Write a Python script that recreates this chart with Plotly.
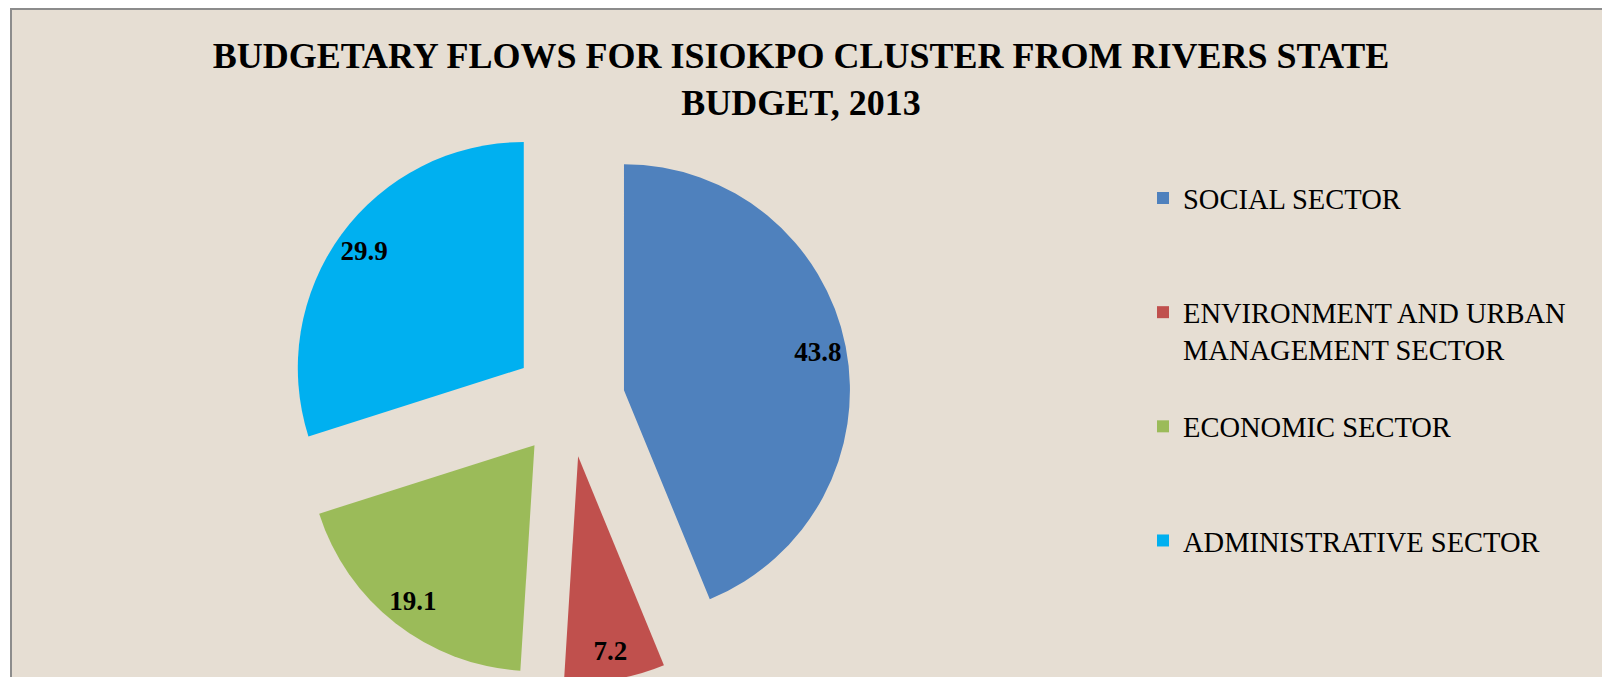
import plotly.graph_objects as go

# ---- data ----
categories = [
    "SOCIAL SECTOR",
    "ENVIRONMENT AND URBAN<br>MANAGEMENT SECTOR",
    "ECONOMIC SECTOR",
    "ADMINISTRATIVE SECTOR",
]
shares = [43.8, 7.2, 19.1, 29.9]
colors = ["#4F81BD", "#C0504D", "#9BBB59", "#00B0F0"]
title_text = "BUDGETARY FLOWS FOR ISIOKPO CLUSTER FROM RIVERS STATE<br>BUDGET, 2013"

W, H = 1602, 683          # slightly taller than the window: bottom is cropped like the reference
TOP = 119
plot_h = H - TOP          # 564
PULL = 0.248
cx_px, side = 569, plot_h
x0 = (cx_px - side / 2) / W
x1 = (cx_px + side / 2) / W


def ypaper(px):
    return (H - px) / plot_h


# legend labels padded with blank lines to reproduce the spaced legend
legend_labels = []
for c in categories:
    n_lines = c.count("<br>") + 1
    legend_labels.append(c + "<br>\u00a0" * (3 - n_lines))

serif = "Liberation Serif, Times New Roman, serif"

fig = go.Figure()
fig.add_trace(go.Pie(
    labels=legend_labels,
    values=shares,
    sort=False,
    direction="clockwise",
    rotation=0,
    pull=[PULL] * len(shares),
    marker=dict(colors=colors, line=dict(width=0)),
    textinfo="none",
    domain=dict(x=[x0, x1], y=[0, 1]),
    hovertemplate="%{customdata}: %{value}<extra></extra>",
    customdata=categories,
    showlegend=True,
))
# transparent ring carrying the value labels near the outer edge
fig.add_trace(go.Pie(
    labels=legend_labels,
    values=shares,
    sort=False,
    direction="clockwise",
    rotation=0,
    hole=0.75,
    pull=[PULL] * len(shares),
    marker=dict(colors=["rgba(0,0,0,0)"] * len(shares), line=dict(width=0)),
    texttemplate="%{value:.1f}",
    textposition="inside",
    insidetextorientation="horizontal",
    insidetextfont=dict(family=serif, size=27, color="black", weight="bold"),
    domain=dict(x=[x0, x1], y=[0, 1]),
    hoverinfo="skip",
    showlegend=False,
))

# background panel with border (top and left edges visible)
fig.add_shape(type="rect", xref="paper", yref="paper",
              x0=11 / W, x1=1.02, y0=-0.05, y1=ypaper(9),
              fillcolor="#E6DED3", line=dict(color="#8C8C8C", width=2),
              layer="below")

fig.update_layout(
    width=W, height=H,
    margin=dict(l=0, r=0, t=TOP, b=0),
    paper_bgcolor="white",
    plot_bgcolor="rgba(0,0,0,0)",
    title=dict(text=title_text, x=0.5, xanchor="center",
               y=1 - 68 / H, yanchor="middle", yref="container",
               font=dict(family=serif, size=36, color="black", weight="bold")),
    legend=dict(x=1143 / W, xanchor="left",
                y=ypaper(173), yanchor="top",
                valign="top",
                font=dict(family=serif, size=28.5, color="black"),
                bgcolor="rgba(0,0,0,0)", traceorder="normal"),
)

fig.write_html(
    "out.html",
    config={"displayModeBar": False},
    post_script="document.body.style.margin='0px';document.body.style.overflow='hidden';",
)
